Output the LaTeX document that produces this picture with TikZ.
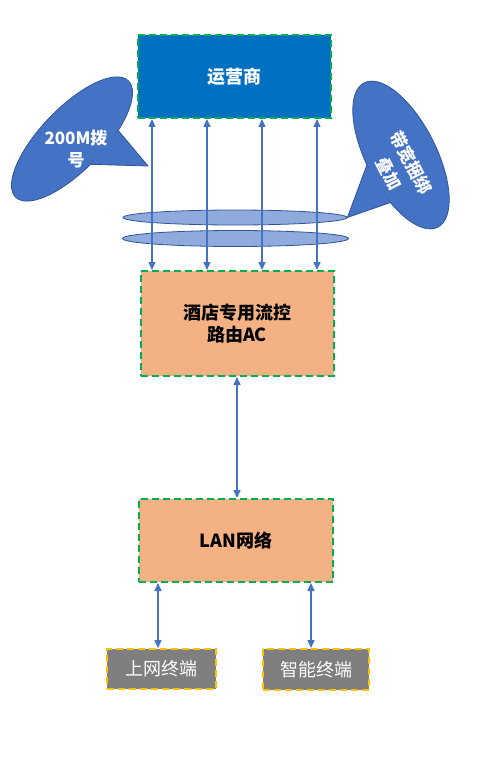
\documentclass[tikz,border=0pt]{standalone}
\usepackage{fontspec}
\setmainfont{Noto Sans CJK SC}
\usetikzlibrary{arrows.meta,shapes.geometric}

\definecolor{opblue}{HTML}{0070C0}
\definecolor{dashgreen}{HTML}{00B050}
\definecolor{acorange}{HTML}{F4B183}
\definecolor{termgray}{HTML}{7F7F7F}
\definecolor{dashyellow}{HTML}{FFC000}
\definecolor{linkblue}{HTML}{4472C4}
\definecolor{bubblefill}{HTML}{4472C4}
\definecolor{bubbleedge}{HTML}{2F5597}
\definecolor{ringfill}{HTML}{8FAADC}

\begin{document}
\begin{tikzpicture}[x=1pt,y=-1pt,
 box/.style={rectangle,inner sep=0pt,align=center,
   font=\fontsize{18}{22}\selectfont\bfseries},
 core/.style={box,fill=acorange,draw=dashgreen,line width=2pt,dash pattern=on 7pt off 4pt},
 term/.style={box,fill=termgray,draw=dashyellow,line width=2pt,dash pattern=on 7pt off 4pt,
   text=white,font=\fontsize{18}{22}\selectfont},
 link/.style={{Triangle[length=8pt,width=7pt]}-{Triangle[length=8pt,width=7pt]},
   draw=linkblue,line width=1.5pt},
 bubble/.style={ellipse,inner sep=0pt,fill=bubblefill,draw=bubbleedge,line width=0.8pt},
 ring/.style={ellipse,inner sep=0pt,fill=ringfill,draw=bubbleedge,line width=0.8pt,
   minimum width=224pt,minimum height=15pt},
 btext/.style={text=white,align=center,font=\fontsize{17}{22}\selectfont\bfseries}]
 \useasboundingbox (0,0) rectangle (483,767);

 % boxes
 \node[core,fill=opblue,text=white,minimum width=193pt,minimum height=83pt] (op) at (234.5,76.5) {运营商};
 \node[core,minimum width=193pt,minimum height=105pt] (ac) at (237,323.5) {酒店专用流控\\路由AC};
 \node[core,minimum width=194pt,minimum height=83pt] (lan) at (236,540.5) {LAN网络};
 \node[term,minimum width=109pt,minimum height=40pt] (t_1) at (161.5,669) {上网终端};
 \node[term,minimum width=106pt,minimum height=41pt] (t_2) at (316,669.5) {智能终端};

 % bundled lines
 \node[ring] (ring_1) at (235,217.5) {};
 \node[ring,minimum width=226pt,minimum height=16pt] (ring_2) at (235.5,238.5) {};

 \foreach \dx in {-82.5,-27.5,27.5,82.5}
  \draw[link] ([xshift=\dx pt]op.south) -- ([xshift=\dx pt]op.south |- ac.north);
 \draw[link] (ac.south) -- (ac.south |- lan.north);
 \draw[link] ([xshift=-3.5pt]t_1.north) -- ([xshift=-3.5pt]t_1.north |- lan.south);
 \draw[link] ([xshift=-5pt]t_2.north) -- ([xshift=-5pt]t_2.north |- lan.south);

 % callouts
 \coordinate (tip_l) at (148,166);
 \node[bubble,rotate=46,minimum width=162pt,minimum height=62pt] (c_l) at (72,139) {};
 \path[fill=bubblefill,draw=bubbleedge,line width=0.8pt] (c_l.-36) -- (tip_l) -- (c_l.-99);
 \node[btext] (l_txt) at (76,149) {200M拨\\号};

 \node[bubble,rotate=-63,minimum width=162pt,minimum height=70pt] (c_r) at (401,155) {};
 \path[fill=bubblefill,draw=bubbleedge,line width=0.8pt] (c_r.260) -- (ring_1.east) -- (c_r.320);
 \node[btext,rotate=-63,font=\fontsize{17}{25}\selectfont\bfseries] (r_txt) at (400,168) {带宽捆绑\\叠加};
\end{tikzpicture}
\end{document}
